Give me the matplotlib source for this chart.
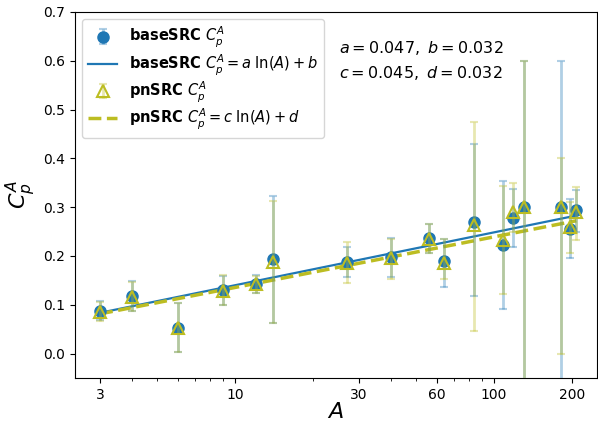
import numpy as np
import matplotlib
matplotlib.use("Agg")
import matplotlib.pyplot as plt
from matplotlib.ticker import NullFormatter, FixedLocator, FixedFormatter

# ---- data ----
A = [3, 4, 6, 9, 12, 14, 27, 40, 56, 64, 84, 108, 118, 130, 181, 197, 208]

base_val = [0.088, 0.118, 0.053, 0.130, 0.143, 0.194, 0.188, 0.198, 0.237, 0.189,
            0.270, 0.223, 0.278, 0.300, 0.300, 0.256, 0.295]
base_lo = [0.069, 0.088, 0.003, 0.099, 0.125, 0.063, 0.157, 0.157, 0.206, 0.137,
           0.119, 0.092, 0.218, -0.100, -0.100, 0.196, 0.250]
base_hi = [0.107, 0.148, 0.103, 0.158, 0.162, 0.323, 0.218, 0.237, 0.266, 0.234,
           0.430, 0.353, 0.338, 0.600, 0.600, 0.316, 0.336]

pn_val = [0.085, 0.115, 0.052, 0.128, 0.142, 0.188, 0.185, 0.195, 0.234, 0.186,
          0.263, 0.232, 0.290, 0.300, 0.300, 0.259, 0.291]
pn_lo = [0.066, 0.087, 0.003, 0.099, 0.125, 0.063, 0.145, 0.153, 0.206, 0.153,
         0.046, 0.123, 0.249, -0.100, 0.000, 0.207, 0.232]
pn_hi = [0.106, 0.147, 0.103, 0.162, 0.160, 0.312, 0.229, 0.235, 0.266, 0.235,
         0.474, 0.343, 0.350, 0.600, 0.400, 0.310, 0.341]

fit_a, fit_b = 0.047, 0.032
fit_c, fit_d = 0.045, 0.032

xticks = [3, 10, 30, 60, 100, 200]
yticks = [0.0, 0.1, 0.2, 0.3, 0.4, 0.5, 0.6, 0.7]

# ---- plot ----
A_arr = np.array(A, dtype=float)
bv, bl, bh = map(np.array, (base_val, base_lo, base_hi))
pv, pl, ph = map(np.array, (pn_val, pn_lo, pn_hi))

fig = plt.figure(figsize=(5.98, 4.24), dpi=100)
ax = fig.add_axes([0.1254, 0.1085, 0.8726, 0.8632])

blue = '#1f77b4'
olive = '#bcbd22'

h1 = ax.errorbar(A_arr, bv, yerr=[bv - bl, bh - bv], fmt='o', color=blue, markersize=8,
                 ecolor=(0.12, 0.47, 0.71, 0.35), elinewidth=2, capsize=3, capthick=1.5,
                 label=r'$\mathbf{baseSRC}$ $C_p^A$', zorder=3)
xx = np.linspace(A_arr.min(), A_arr.max(), 200)
h2, = ax.plot(xx, fit_a * np.log(xx) + fit_b, '-', color=blue, lw=1.6,
              label=r'$\mathbf{baseSRC}$ $C_p^A = a\;\ln(A) + b$', zorder=2)
h3 = ax.errorbar(A_arr, pv, yerr=[pv - pl, ph - pv], fmt='^', mfc='none', mec=olive,
                 mew=1.5, markersize=9, ecolor=(0.74, 0.74, 0.13, 0.35), elinewidth=2,
                 capsize=3, capthick=1.5, label=r'$\mathbf{pnSRC}$ $C_p^A$', zorder=4)
h4, = ax.plot(xx, fit_c * np.log(xx) + fit_d, '--', color=olive, lw=2.5,
              label=r'$\mathbf{pnSRC}$ $C_p^A = c\;\ln(A) + d$', zorder=2.5)

ax.set_xscale('log')
ax.set_xlim(A_arr.min() * 0.8, A_arr.max() * 1.2)
ax.set_ylim(-0.05, 0.7)
ax.xaxis.set_major_locator(FixedLocator(xticks))
ax.xaxis.set_major_formatter(FixedFormatter([str(t) for t in xticks]))
ax.xaxis.set_minor_formatter(NullFormatter())
ax.set_yticks(yticks)

ax.set_xlabel(r'$A$', fontsize=16, labelpad=0)
ax.set_ylabel(r'$C_p^A$', fontsize=16)

ax.text(0.505, 0.927, r'$a = 0.047,\ b = 0.032$' + '\n' + r'$c = 0.045,\ d = 0.032$',
        transform=ax.transAxes, fontsize=11.5, va='top', ha='left', linespacing=1.5)

ax.legend(handles=[h1, h2, h3, h4], loc='upper left', fontsize=10.5, labelspacing=0.15)

fig.savefig('out.png', dpi=100)
